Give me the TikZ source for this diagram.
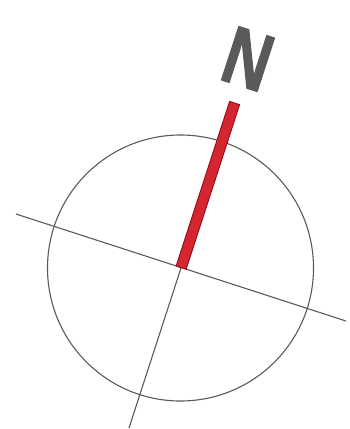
\documentclass[tikz,border=0pt]{standalone}
\usepackage{fontspec}
\setmainfont{Liberation Sans}
\usetikzlibrary{positioning}

\definecolor{needlered}{RGB}{212,38,48}
\definecolor{needleedge}{RGB}{150,10,20}
\definecolor{axisgray}{RGB}{90,90,90}

\begin{document}
\begin{tikzpicture}[
    x=1pt, y=-1pt,
    axis/.style={draw=axisgray, line width=1.1pt},
    dial/.style={circle, draw=axisgray, line width=1.1pt, minimum size=266pt, inner sep=0pt},
    needle/.style={draw=needleedge, fill=needlered, line width=0.9pt, minimum width=173pt, minimum height=10.5pt, inner sep=0pt, rotate=72, anchor=west},
    north/.style={text=axisgray, font=\fontsize{82}{82}\selectfont\bfseries\addfontfeature{FakeStretch=0.78,FakeBold=1.2}, rotate=-18, inner sep=0pt}
]
\useasboundingbox (0,0) rectangle (350,429);

% ---------- Dial ----------
\coordinate (center) at (181,268);
\node[dial] (ring) at (180.5,268) {};

% ---------- Axes ----------
\coordinate (westend)  at (16,214);
\coordinate (eastend)  at (346,321);
\coordinate (southend) at (129,428);
\draw[axis] (westend) -- (eastend);
\draw[axis] (southend) -- (center);

% ---------- Needle and label ----------
\node[needle] (pointer) at (center) {};
\node[north] (nlabel) at (248,59) {N};

\end{tikzpicture}
\end{document}
